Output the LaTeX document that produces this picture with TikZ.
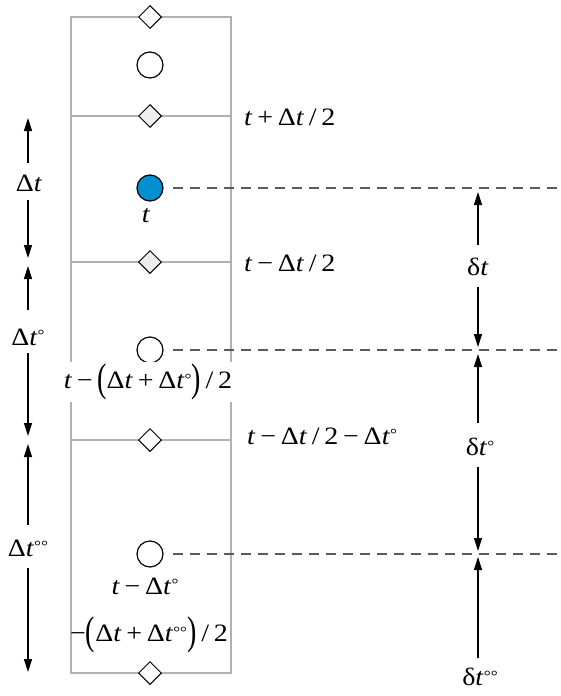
\documentclass[tikz,border=0pt]{standalone}
\usepackage{fontspec}
\setmainfont{Liberation Serif}[FakeStretch=1.12]
\usetikzlibrary{arrows.meta,shapes.geometric}
\newcommand{\tv}{\textit{t}}
\newcommand{\lpar}{\raisebox{-0.12em}{\scalebox{1}[1.6]{(}}}
\newcommand{\rpar}{\raisebox{-0.12em}{\scalebox{1}[1.6]{)}}}
\newcommand{\op}[1]{\hspace{0.19em}#1\hspace{0.19em}}
\newcommand{\dg}{\raisebox{0.18em}{\scalebox{0.62}{°}}}
\definecolor{gridgrey}{HTML}{B0B0B0}
\definecolor{dashgrey}{HTML}{5A5A5A}
\definecolor{dotblue}{HTML}{0090D0}
\definecolor{diafill}{HTML}{EEEEEE}
\tikzset{
  cellline/.style={draw=gridgrey, line width=1.3pt},
  dia/.style={shape=diamond, draw=black, fill=white, line width=1pt, minimum width=23pt, minimum height=23pt, inner sep=0pt},
  diag/.style={dia, fill=diafill},
  dot/.style={shape=circle, draw=black, fill=white, line width=1.2pt, minimum size=26pt, inner sep=0pt},
  lab/.style={font=\fontsize{25}{27}\selectfont, inner sep=1pt},
  arr/.style={draw=black, line width=1.3pt, -{Triangle[length=13pt,width=8pt]}},
  dashline/.style={draw=dashgrey, line width=1.2pt, dash pattern=on 10pt off 7pt, shorten <=9pt}
}
\begin{document}
\begin{tikzpicture}[x=1pt,y=-1pt]
\useasboundingbox (0,0) rectangle (560,696);
% cell lines
\draw[cellline] (71,17) rectangle (231,673);
\draw[cellline] (71,116) -- (231,116);
\draw[cellline] (71,262) -- (231,262);
\draw[cellline] (71,440) -- (231,440);
% diamonds
\node[dia]  (d0) at (150,17) {};
\node[diag] (d1) at (150,116) {};
\node[diag] (d2) at (150,262) {};
\node[dia]  (d3) at (150,440) {};
\node[dia]  (d4) at (150,673) {};
% circles
\node[dot] (c0) at (150,65) {};
\node[dot, fill=dotblue] (c1) at (150,188) {};
\node[dot] (c2) at (150,350) {};
\node[dot] (c3) at (150,554) {};
% dashed lines
\coordinate (R) at (560,0);
\draw[dashline] (c1.east) -- (c1 -| R);
\draw[dashline] (c2.east) -- (c2 -| R);
\draw[dashline] (c3.east) -- (c3 -| R);
% labels in the column
\node[lab] (lt) at (146,216) {\tv};
\node[lab, fill=white, inner ysep=2pt, inner xsep=0pt] (lmid) at (148,382) {\tv\op{−}\lpar Δ\tv\op{+}Δ\tv\dg\rpar\op{/}2};
\node[lab] (llow1) at (145,586) {\tv\op{−}Δ\tv\dg};
\node[lab] (llow2) at (149,635) {−\lpar Δ\tv\op{+}Δ\tv\dg\dg\rpar\op{/}2};
% right labels
\node[lab, anchor=west] (lp) at (243,117) {\tv\op{+}Δ\tv\op{/}2};
\node[lab, anchor=west] (lm) at (243,263) {\tv\op{−}Δ\tv\op{/}2};
\node[lab, anchor=west] (lmm) at (246,436) {\tv\op{−}Δ\tv\op{/}2\op{−}Δ\tv\dg};
% left dimension labels
\node[lab] (L1) at (29,183) {Δ\tv};
\node[lab] (L2) at (28,337) {Δ\tv\dg};
\node[lab] (L3) at (28,548) {Δ\tv\dg\dg};
\coordinate (L1a) at (28,163); \coordinate (L1t) at (28,118);
\coordinate (L1b) at (28,200); \coordinate (L1s) at (28,258);
\coordinate (L2a) at (28,310); \coordinate (L2t) at (28,266);
\coordinate (L2b) at (28,353); \coordinate (L2s) at (28,436);
\coordinate (L3a) at (28,525); \coordinate (L3t) at (28,444);
\coordinate (L3b) at (28,568); \coordinate (L3s) at (28,672);
\draw[arr] (L1a) -- (L1t);
\draw[arr] (L1b) -- (L1s);
\draw[arr] (L2a) -- (L2t);
\draw[arr] (L2b) -- (L2s);
\draw[arr] (L3a) -- (L3t);
\draw[arr] (L3b) -- (L3s);
% right dimension labels
\node[lab] (D1) at (478,267) {δ\tv};
\node[lab] (D2) at (480,447) {δ\tv\dg};
\node[lab] (D3) at (480,677) {δ\tv\dg\dg};
\coordinate (D1a) at (478,245); \coordinate (D1t) at (478,192);
\coordinate (D1b) at (478,287); \coordinate (D1s) at (478,347);
\coordinate (D2a) at (478,423); \coordinate (D2t) at (478,354);
\coordinate (D2b) at (478,467); \coordinate (D2s) at (478,551);
\coordinate (D3a) at (478,658); \coordinate (D3t) at (478,557);
\draw[arr] (D1a) -- (D1t);
\draw[arr] (D1b) -- (D1s);
\draw[arr] (D2a) -- (D2t);
\draw[arr] (D2b) -- (D2s);
\draw[arr] (D3a) -- (D3t);
\end{tikzpicture}
\end{document}
